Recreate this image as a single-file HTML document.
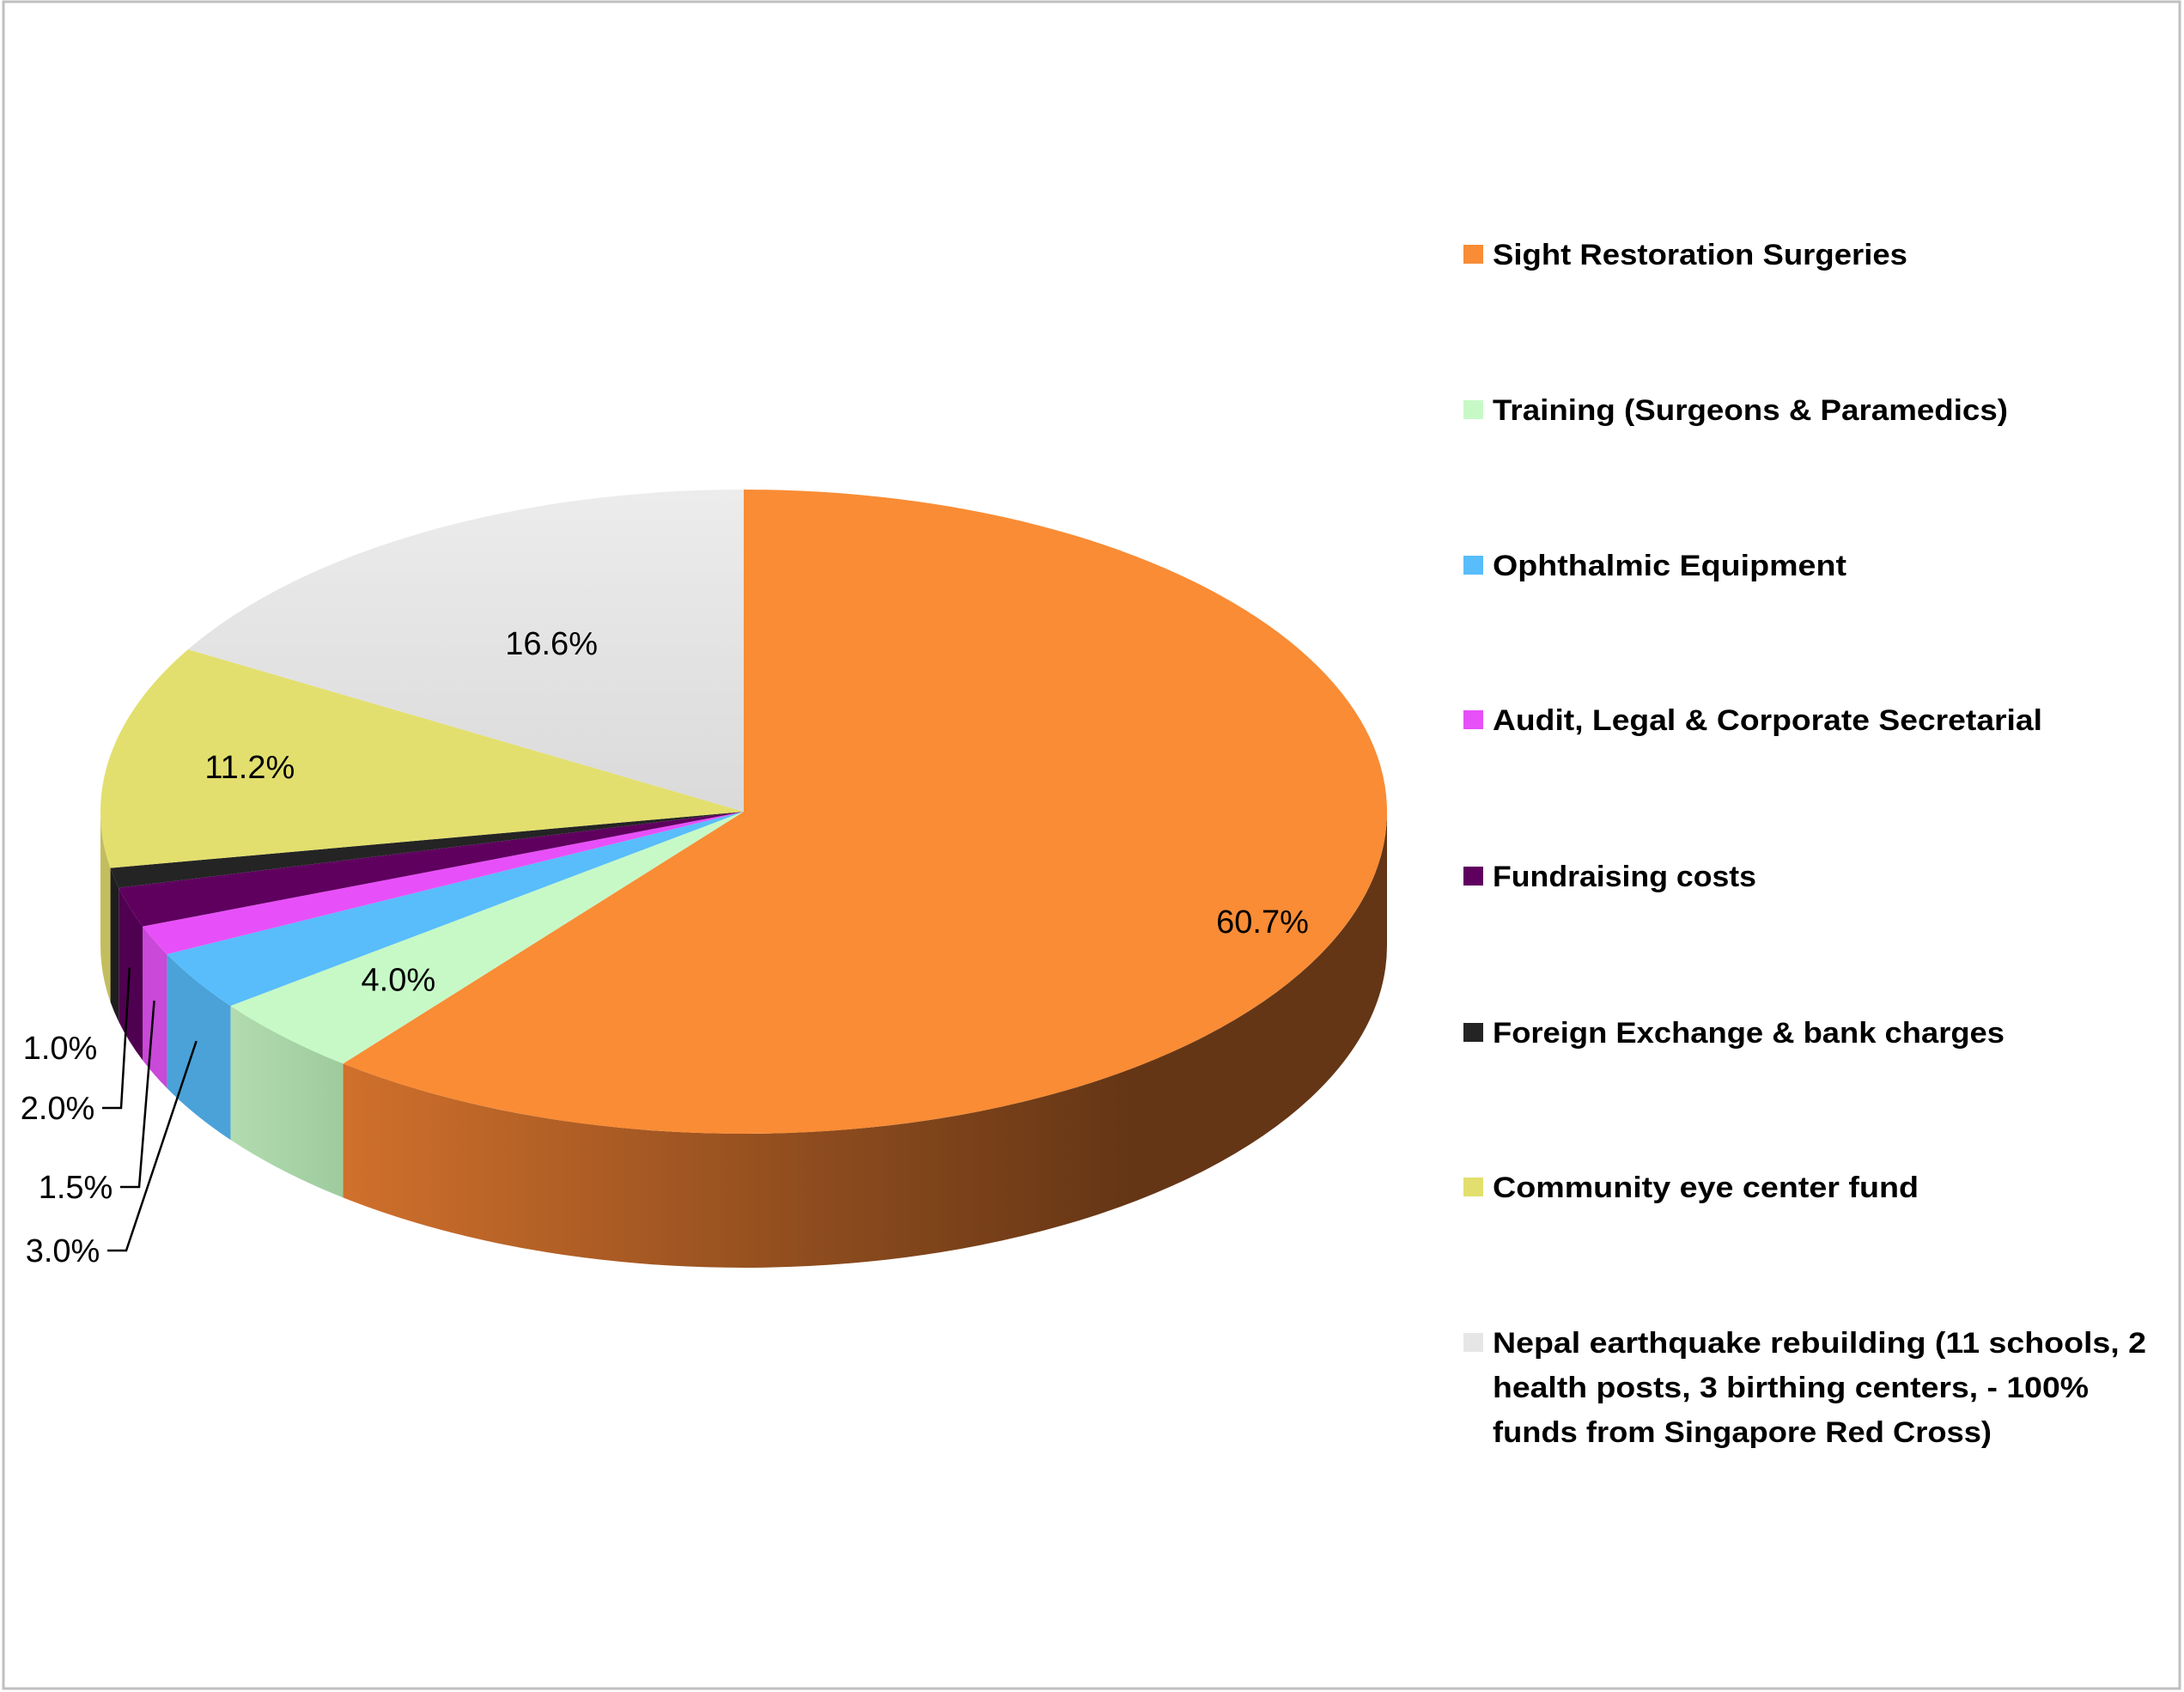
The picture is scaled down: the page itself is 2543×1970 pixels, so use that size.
<!DOCTYPE html>
<html><head><meta charset="utf-8"><style>
html,body{margin:0;padding:0;background:#fff;}
svg{display:block;}
</style></head><body>
<svg id="chart" width="2543" height="1970" viewBox="0 0 2543 1970" xmlns="http://www.w3.org/2000/svg" font-family="'Liberation Sans', sans-serif">
<defs>
<linearGradient id="gOrangeSide" x1="400" y1="0" x2="1620" y2="0" gradientUnits="userSpaceOnUse">
<stop offset="0" stop-color="#d0702c"/><stop offset="0.45" stop-color="#8e4c1e"/><stop offset="0.75" stop-color="#653615"/><stop offset="1" stop-color="#643615"/></linearGradient>
<linearGradient id="gGreenSide" x1="0" y1="0" x2="1" y2="0"><stop offset="0" stop-color="#b2dcb0"/><stop offset="1" stop-color="#9ecb9e"/></linearGradient>
<linearGradient id="gNepal" x1="0" y1="0" x2="0" y2="1"><stop offset="0" stop-color="#ececec"/><stop offset="1" stop-color="#dadada"/></linearGradient>
</defs>
<rect x="4" y="2" width="2534" height="1964" fill="#fff" stroke="#bfbfbf" stroke-width="3"/>
<g id="pie"></g>
<g id="labels"></g>
<g id="legend"></g>
</svg>
<script>
const categories = ["Sight Restoration Surgeries","Training (Surgeons & Paramedics)","Ophthalmic Equipment","Audit, Legal & Corporate Secretarial","Fundraising costs","Foreign Exchange & bank charges","Community eye center fund","Nepal earthquake rebuilding (11 schools, 2 health posts, 3 birthing centers, - 100% funds from Singapore Red Cross)"];
const values = [60.7, 4.0, 3.0, 1.5, 2.0, 1.0, 11.2, 16.6];
const valueLabels = ["60.7%","4.0%","3.0%","1.5%","2.0%","1.0%","11.2%","16.6%"];

const NS = "http://www.w3.org/2000/svg";
const topColors = ["#f98c35","#c7f9c7","#58bdfa","#e750f8","#5f005f","#242424","#e2df6e","url(#gNepal)"];
const sideColors = ["url(#gOrangeSide)","url(#gGreenSide)","#4aa2d8","#c949d8","#500050","#1e1e1e","#c3bd5e","#c4c4c4"];
const legendSwatch = ["#f98c35","#c7f9c7","#58bdfa","#e750f8","#5f005f","#242424","#e2df6e","#e6e6e6"];
const legendKeys = ["sight","training","ophthalmic","audit","fundraising","forex","community","nepal"];
const cx = 866, cy = 945, rx = 749, ry = 375, depth = 156;
const total = values.reduce((a,b)=>a+b,0);
function pt(deg, dy){ const r = deg*Math.PI/180; return [cx + rx*Math.sin(r), cy - ry*Math.cos(r) + (dy||0)]; }
function el(tag, attrs){ const e = document.createElementNS(NS, tag); for (const k in attrs) e.setAttribute(k, attrs[k]); return e; }
const pie = document.getElementById('pie');
const labels = document.getElementById('labels');
const legend = document.getElementById('legend');

// angles
const angles = []; let acc = 0;
values.forEach(v => { const a0 = acc/total*360; acc += v; angles.push([a0, acc/total*360]); });

// sides (only front half, 90..270)
angles.forEach((a, i) => {
  const s = Math.max(a[0], 90), e = Math.min(a[1], 270);
  if (e <= s) return;
  const p0 = pt(s), p1 = pt(e), q1 = pt(e, depth), q0 = pt(s, depth);
  const large = (e - s) > 180 ? 1 : 0;
  const d = `M${p0[0]},${p0[1]} A${rx},${ry} 0 ${large} 1 ${p1[0]},${p1[1]} L${q1[0]},${q1[1]} A${rx},${ry} 0 ${large} 0 ${q0[0]},${q0[1]} Z`;
  const path = el('path', {d: d, fill: sideColors[i]});
  
  
  pie.appendChild(path);
});
// tops
angles.forEach((a, i) => {
  const p0 = pt(a[0]), p1 = pt(a[1]);
  const large = (a[1]-a[0]) > 180 ? 1 : 0;
  const d = `M${cx},${cy} L${p0[0]},${p0[1]} A${rx},${ry} 0 ${large} 1 ${p1[0]},${p1[1]} Z`;
  const path = el('path', {d: d, fill: topColors[i]});
  
  
  pie.appendChild(path);
});

// data labels: inside for large, outside with leaders for small
const inside = {0:[0.62,0.5], 1:[0.75,0.55], 6:[0.78,0.5], 7:[0.6,0.5]};
const outsidePos = {2:[73,1456], 3:[88,1382], 4:[67,1290], 5:[70,1220]};
angles.forEach((a, i) => {
  const mid = (a[0]+a[1])/2;
  let x, y;
  if (inside[i]) {
    const f = inside[i][0]; const r = mid*Math.PI/180;
    x = cx + rx*f*Math.sin(r); y = cy - ry*f*Math.cos(r) + 12;
    if (i === 0) { x = 1470; y = 1086; }
    const t = el('text', {x: x, y: y, 'font-size': 38, 'text-anchor': 'middle', fill: '#000'});
    t.textContent = valueLabels[i];
    
    
    labels.appendChild(t);
  } else {
    const [lx, ly] = outsidePos[i];
    const t = el('text', {x: lx, y: ly + 13, 'font-size': 38, 'text-anchor': 'middle', fill: '#000'});
    t.textContent = valueLabels[i];
    
    
    labels.appendChild(t);
    if (i !== 5) {
      const anchor = pt(mid, depth*0.45);
      const ex = lx + 52, bx = lx + 74;
      const line = el('polyline', {points: `${ex},${ly} ${bx},${ly} ${anchor[0]},${anchor[1]}`, fill: 'none', stroke: '#000', 'stroke-width': 2.5});
      
      
      labels.appendChild(line);
    }
  }
});

// legend
const legendY = [296, 477, 658, 838, 1020, 1202, 1382, 1563];
const legendWidths = [483, 600, 412, 640, 307, 596, 496];
const nepalLines = ["Nepal earthquake rebuilding (11 schools, 2","health posts, 3 birthing centers, - 100%","funds from Singapore Red Cross)"];
const nepalWidths = [761, 694, 581];
categories.forEach((c, i) => {
  const g = el('g', {});
  
  
  const y = legendY[i];
  const sw = el('rect', {x: 1704, y: y - 11, width: 23, height: 22, fill: legendSwatch[i]});
  
  
  g.appendChild(sw);
  const lines = i === 7 ? nepalLines : [c];
  const widths = i === 7 ? nepalWidths : [legendWidths[i]];
  lines.forEach((ln, k) => {
    const t = el('text', {x: 1738, y: y + 12 + k*52, 'font-size': 34, 'font-weight': 'bold', fill: '#000', textLength: widths[k], lengthAdjust: 'spacingAndGlyphs'});
    t.textContent = ln;
    
    
    g.appendChild(t);
  });
  legend.appendChild(g);
});
</script>
</body></html>
